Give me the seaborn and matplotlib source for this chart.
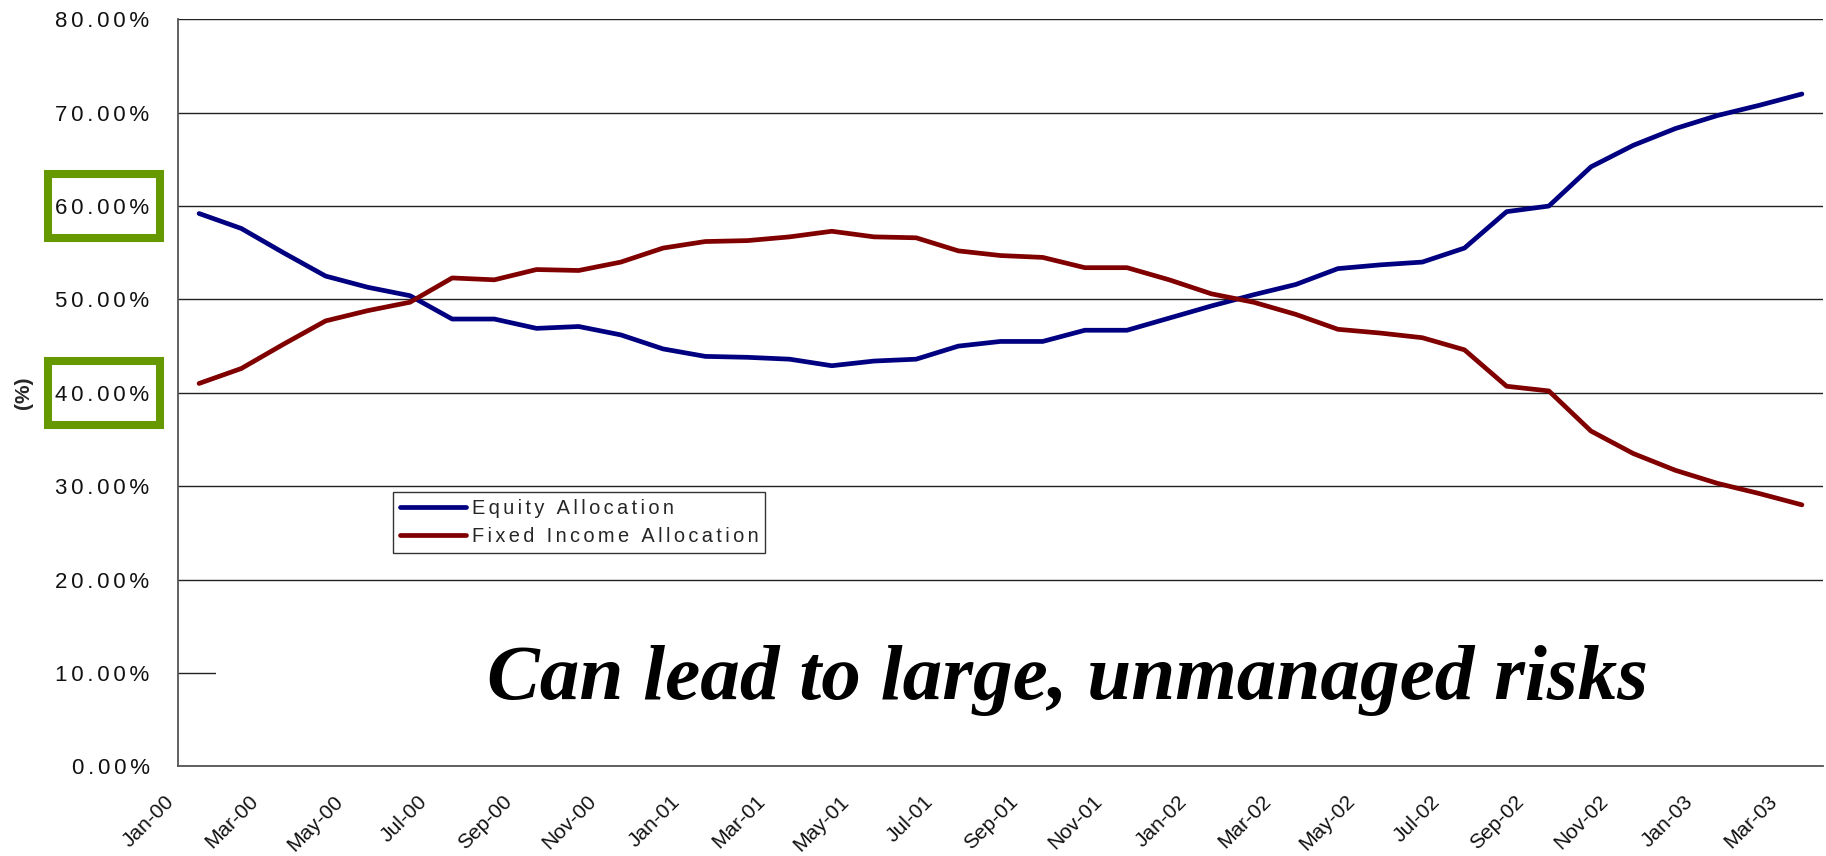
import numpy as np
import pandas as pd
import matplotlib
matplotlib.use("Agg")
import matplotlib.pyplot as plt
import matplotlib.transforms as mtrans
from matplotlib.patches import Rectangle
from matplotlib.lines import Line2D
import seaborn as sns

# Monthly allocation series, Jan-2000 .. Mar-2003 (percent)
months = pd.date_range("2000-01-01", periods=39, freq="MS")
equity = [59.2, 57.6, 55.0, 52.5, 51.3, 50.4, 47.9, 47.9, 46.9, 47.1,
          46.2, 44.7, 43.9, 43.8, 43.6, 42.9, 43.4, 43.6, 45.0, 45.5,
          45.5, 46.7, 46.7, 48.0, 49.3, 50.5, 51.6, 53.3, 53.7, 54.0,
          55.5, 59.4, 60.0, 64.2, 66.5, 68.3, 69.7, 70.8, 72.0]
fixed_income = [41.0, 42.6, 45.2, 47.7, 48.8, 49.7, 52.3, 52.1, 53.2, 53.1,
                54.0, 55.5, 56.2, 56.3, 56.7, 57.3, 56.7, 56.6, 55.2, 54.7,
                54.5, 53.4, 53.4, 52.1, 50.6, 49.7, 48.4, 46.8, 46.4, 45.9,
                44.6, 40.7, 40.2, 35.9, 33.5, 31.7, 30.3, 29.2, 28.0]
series_names = ["Equity Allocation", "Fixed Income Allocation"]
series_colors = ["#000080", "#800000"]
y_ticks = [0, 10, 20, 30, 40, 50, 60, 70, 80]
highlighted_ticks = [60, 40]
message = "Can lead to large, unmanaged risks"

W, H = 1826, 856
sns.set_style("white")
plt.rcParams["font.family"] = ["Liberation Sans", "DejaVu Sans"]


def spaced(s):
    """Widen letter spacing with six-per-em spaces."""
    return "\u2006".join(s)


df = pd.DataFrame({
    "idx": np.concatenate([np.arange(len(months))] * 2),
    "value": equity + fixed_income,
    "series": [series_names[0]] * len(equity) + [series_names[1]] * len(fixed_income),
})

fig = plt.figure(figsize=(W / 100, H / 100), dpi=100)
ax = fig.add_axes([178 / W, 1 - 766.3 / H, (1823 - 178) / W, (766.3 - 19.3) / H])

sns.lineplot(data=df, x="idx", y="value", hue="series",
             palette=dict(zip(series_names, series_colors)),
             linewidth=3.4, legend=False, ax=ax, zorder=3)

ax.set_xlim(-0.5, len(months) - 0.5)
ax.set_ylim(0, 80)
ax.set_xlabel("")
ax.set_ylabel("")

# y axis: percent labels with wide tracking, horizontal grid
ax.set_yticks(y_ticks)
ax.set_yticklabels([spaced(f"{v:.2f}%") for v in y_ticks], fontsize=16)
ax.set_axisbelow(True)
ax.yaxis.grid(True, color="#222222", linewidth=1.0)
ax.xaxis.grid(False)

# x axis: ticks on category boundaries, every second month labelled
tick_pos = np.arange(-0.5, len(months) - 1, 2)
tick_lab = [m.strftime("%b-%y") for m in months[::2]]
ax.set_xticks(tick_pos)
ax.set_xticklabels(tick_lab, rotation=45, ha="right", fontsize=15)
off = mtrans.ScaledTranslation(-6 / 100, 0, fig.dpi_scale_trans)
for lbl in ax.get_xticklabels():
    lbl.set_transform(lbl.get_transform() + off)

ax.tick_params(axis="y", direction="out", length=6.5, width=1, color="#333333",
               pad=14, labelcolor="#111111")
ax.tick_params(axis="x", direction="out", length=4.3, width=1, color="#333333",
               pad=14, labelcolor="#111111")
for side in ("top", "right"):
    ax.spines[side].set_visible(False)
for side in ("left", "bottom"):
    ax.spines[side].set_color("#555555")
    ax.spines[side].set_linewidth(1.3)

# white panel behind the message
blend = mtrans.blended_transform_factory(ax.transAxes, ax.transData)
ax.add_patch(Rectangle(((216 - 178) / (1823 - 178), 2.5), 1, 14, transform=blend,
                       facecolor="white", edgecolor="none", zorder=1))
fig.text(487 / W, 1 - 698.7 / H, message, fontsize=57, fontweight="bold",
         fontstyle="italic", family=["Liberation Serif", "DejaVu Serif"],
         ha="left", va="baseline", color="black")

# legend
handles = [Line2D([], [], color=c, linewidth=3.4) for c in series_colors]
leg = ax.legend(handles, [spaced(n) for n in series_names],
                loc="upper left", bbox_to_anchor=(393 / W, 1 - 491.5 / H),
                bbox_transform=fig.transFigure, borderaxespad=0,
                fontsize=14.4, handlelength=3.3, handletextpad=0.28,
                labelspacing=0.45, borderpad=0.35, fancybox=False,
                frameon=True, framealpha=1)
leg.get_frame().set_edgecolor("#333333")
leg.get_frame().set_linewidth(1.0)

# axis title
fig.text(24 / W, 1 - 392.5 / H, "(%)", rotation=90, fontsize=15, fontweight="bold",
         ha="center", va="center")

# green call-out frames around selected tick labels
for v in highlighted_ticks:
    yc = 766.3 - v * 9.3375
    fig.add_artist(Rectangle((48 / W, 1 - (yc + 32) / H), 112 / W, 64 / H,
                             transform=fig.transFigure, fill=False,
                             edgecolor="#669900", linewidth=5.8))

fig.savefig("out.png", dpi=100, facecolor="white")
